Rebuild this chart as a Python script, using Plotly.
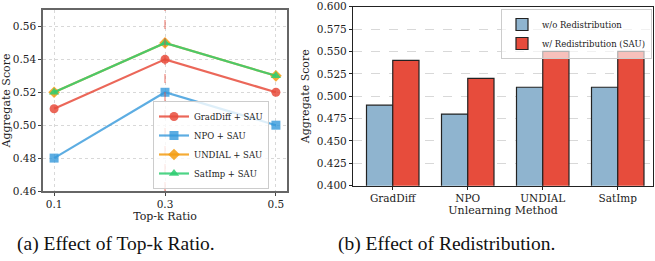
import plotly.graph_objects as go

W, H = 655, 261

# Left panel data
topk = [0.1, 0.3, 0.5]
graddiff = [0.51, 0.54, 0.52]
npo = [0.48, 0.52, 0.50]
undial = [0.52, 0.55, 0.53]
satimp = [0.52, 0.55, 0.53]
left_yticks = [0.46, 0.48, 0.50, 0.52, 0.54, 0.56]

# Right panel data
methods = ["GradDiff", "NPO", "UNDIAL", "SatImp"]
wo_redis = [0.49, 0.48, 0.51, 0.51]
w_redis = [0.54, 0.52, 0.55, 0.55]
right_yticks = [0.400, 0.425, 0.450, 0.475, 0.500, 0.525, 0.550, 0.575, 0.600]

SERIF = "DejaVu Serif"
CAP = "Liberation Serif"

def px_x(p):
    return p / W

def px_y(p):
    return 1 - p / H

fig = go.Figure()

series = [
    ("GradDiff + SAU", graddiff, "rgba(231,76,60,0.85)", "circle"),
    ("NPO + SAU", npo, "rgba(52,152,219,0.8)", "square"),
    ("UNDIAL + SAU", undial, "rgba(243,156,18,0.85)", "diamond"),
    ("SatImp + SAU", satimp, "rgba(46,204,113,0.85)", "triangle-up"),
]
for name, vals, col, sym in series:
    fig.add_trace(go.Scatter(
        x=topk, y=vals, name=name, mode="lines+markers",
        line=dict(color=col, width=2.2),
        marker=dict(symbol=sym, size=9, color=col),
        xaxis="x", yaxis="y", legend="legend",
    ))

fig.add_trace(go.Bar(
    x=methods, y=wo_redis, name="w/o Redistribution",
    marker=dict(color="#8fb4cf", line=dict(color="#222", width=1.2)),
    width=0.35, offset=-0.35,
    xaxis="x2", yaxis="y2", legend="legend2",
))
fig.add_trace(go.Bar(
    x=methods, y=w_redis, name="w/ Redistribution (SAU)",
    marker=dict(color="#e74c3c", line=dict(color="#222", width=1.2)),
    width=0.35, offset=0,
    xaxis="x2", yaxis="y2", legend="legend2",
))

tickfont = dict(family=SERIF, size=10.5, color="#222")
titlefont = dict(family=SERIF, size=11, color="#222")

fig.update_layout(
    width=W, height=H,
    margin=dict(l=0, r=0, t=0, b=0, autoexpand=False),
    paper_bgcolor="white", plot_bgcolor="white",
    barmode="overlay",
    xaxis=dict(
        domain=[px_x(43), px_x(287)], range=[0.08, 0.52],
        tickvals=topk, ticktext=["0.1", "0.3", "0.5"],
        tickfont=tickfont, ticks="outside", ticklen=3, tickcolor="#444",
        showgrid=True, gridcolor="#d8d8d8", griddash="dot", gridwidth=0.8,
        showline=True, linecolor="#666", linewidth=1.5, mirror=True,
        zeroline=False, automargin=False,
        title=dict(text="Top-k Ratio", font=titlefont, standoff=2),
        anchor="y",
    ),
    yaxis=dict(
        domain=[px_y(191), px_y(10)], range=[0.46, 0.57],
        tickvals=left_yticks, ticktext=[f"{v:.2f}" for v in left_yticks],
        tickfont=tickfont, ticks="outside", ticklen=3, tickcolor="#444",
        showgrid=True, gridcolor="#d8d8d8", griddash="dot", gridwidth=0.8,
        showline=True, linecolor="#666", linewidth=1.5, mirror=True,
        zeroline=False, automargin=False,
        title=dict(text="Aggregate Score", font=titlefont, standoff=4),
        anchor="x",
    ),
    xaxis2=dict(
        domain=[px_x(353), px_x(653)], range=[-0.53, 3.47],
        tickfont=tickfont, ticks="outside", ticklen=3, tickcolor="#222",
        showgrid=False,
        showline=True, linecolor="#222", linewidth=1.2, mirror=True,
        zeroline=False, automargin=False,
        title=dict(text="Unlearning Method", font=titlefont, standoff=0),
        anchor="y2",
    ),
    yaxis2=dict(
        domain=[px_y(185.7), px_y(6.7)], range=[0.4, 0.6],
        tickvals=right_yticks, ticktext=[f"{v:.3f}" for v in right_yticks],
        tickfont=tickfont, ticks="outside", ticklen=3, tickcolor="#222",
        showgrid=True, gridcolor="#d8d8d8", griddash="dash", gridwidth=0.8,
        showline=True, linecolor="#222", linewidth=1.2, mirror=True,
        zeroline=False, automargin=False,
        title=dict(text="Aggregate Score", font=titlefont, standoff=4),
        anchor="x2",
    ),
    legend=dict(
        x=px_x(269), y=px_y(189), xanchor="right", yanchor="bottom",
        bgcolor="rgba(255,255,255,0.8)", bordercolor="#ccc", borderwidth=1,
        font=dict(family=SERIF, size=8.5, color="#222"),
        tracegroupgap=0, itemwidth=30,
    ),
    legend2=dict(
        x=px_x(652), y=px_y(9), xanchor="right", yanchor="top",
        bgcolor="rgba(255,255,255,0.65)", bordercolor="#ccc", borderwidth=1,
        font=dict(family=SERIF, size=8.5, color="#222"),
        tracegroupgap=0, itemwidth=30,
    ),
    showlegend=True,
)

# Vertical dashed reference line at top-k = 0.3
fig.add_shape(type="line", xref="x", yref="y domain", x0=0.3, x1=0.3, y0=0, y1=1,
              line=dict(color="rgba(231,76,60,0.8)", width=1, dash="dash"))

# Captions
fig.add_annotation(text="(a) Effect of Top-k Ratio.", xref="paper", yref="paper",
                   x=px_x(116), y=px_y(244), xanchor="center", yanchor="middle",
                   showarrow=False, font=dict(family=CAP, size=19.5, color="#111"))
fig.add_annotation(text="(b) Effect of Redistribution.", xref="paper", yref="paper",
                   x=px_x(446), y=px_y(244), xanchor="center", yanchor="middle",
                   showarrow=False, font=dict(family=CAP, size=19.5, color="#111"))

fig.write_html("out.html", config={"displayModeBar": False},
               post_script="document.body.style.margin='0';")
